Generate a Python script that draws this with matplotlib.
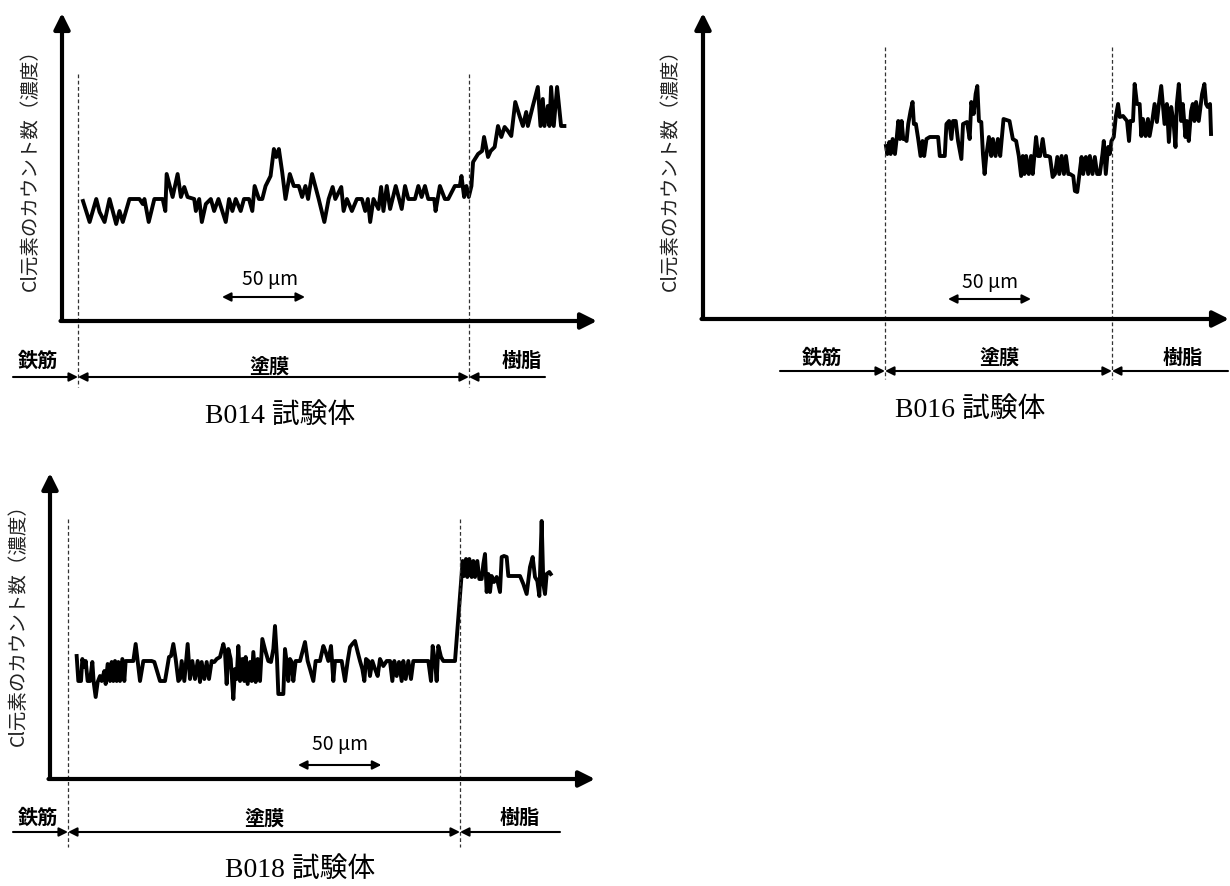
import matplotlib.pyplot as plt

plt.rcParams['font.family'] = ['Noto Sans CJK JP', 'DejaVu Sans']

# distance from the steel/coating boundary (um) and Cl count (arbitrary units)
b014_x = [3, 7, 11, 13, 16, 19, 23, 25, 27, 31,
          37, 39, 40, 42.6, 46, 51, 52.6, 53.4, 57, 60,
          62, 64, 66, 70, 71, 73, 74.6, 77, 80, 82,
          84.6, 89, 91, 93, 95, 98, 100, 103, 105, 106.4,
          109, 111, 113, 116, 118, 119.4, 121, 123, 125, 127.6,
          130, 133, 135, 137, 138.6, 141, 145, 148.4, 151, 153.4,
          155, 158.6, 160, 162, 165, 168, 171, 173, 174.6, 176,
          178, 181, 182.6, 184, 186, 188, 191.4, 195, 197, 199,
          203, 205, 207, 209, 211, 214.6, 215.4, 218, 221, 223,
          227, 230, 231, 232.6, 234, 235.4, 237, 238, 241, 243.4,
          244.6, 247, 248.6, 251, 253, 255, 257, 259, 261, 263.4,
          266, 268, 270, 271, 274, 277, 278.6, 280, 281, 283,
          284, 285, 286.6, 288.6, 291, 293]
b014_y = [120, 99, 122, 109, 99, 122, 97, 110, 99, 122,
          122, 117, 122, 99, 122, 122, 110, 147, 124, 147,
          124, 134, 124, 122, 110, 122, 99, 117, 122, 110,
          122, 99, 122, 110, 122, 110, 122, 122, 110, 135,
          122, 122, 135, 145, 172, 164, 172, 149, 122, 147,
          135, 135, 124, 135, 122, 147, 122, 99, 122, 134,
          122, 134, 110, 122, 110, 122, 122, 110, 122, 99,
          122, 112, 134, 110, 135, 112, 135, 112, 135, 122,
          122, 135, 124, 135, 122, 122, 110, 135, 122, 122,
          135, 135, 145, 124, 135, 124, 135, 159, 167, 170,
          184, 164, 170, 174, 195, 184, 194, 190, 185, 219,
          205, 195, 209, 195, 215, 234, 195, 222, 195, 215,
          195, 234, 195, 234, 195, 195]
b014_coat = 235.5

b016_x = [0.6, 1.4, 2.6, 3.4, 4.6, 6, 7, 8, 9, 10,
          11, 12, 13, 14, 15.4, 16.6, 17.4, 18.6, 20, 21.4,
          22.6, 23.6, 25, 27, 32, 33, 36, 37, 38.6, 40,
          41, 42.6, 44, 46, 47, 49.4, 51, 52, 53.4, 54.6,
          55.6, 56.6, 58, 59, 60, 61, 62.6, 64, 65, 66.6,
          68, 69.4, 71.4, 75, 77, 79, 80.6, 82, 83, 84,
          85, 86.6, 88, 89, 90, 91, 92.2, 93.4, 95, 96.4,
          98, 99.4, 101, 102.4, 103.8, 105, 106.4, 107.8, 109, 110.4,
          111.4, 113.4, 114.4, 115.8, 117, 118.4, 119.4, 121, 122.4, 123.4,
          125, 126.4, 127.8, 129.4, 131, 131.8, 133, 134.4, 135.4, 136.4,
          137.8, 139, 140.4, 141.4, 143.4, 145.8, 147, 147.8, 149.4, 150.4,
          151.8, 153.4, 154.4, 155.4, 157, 158.4, 159.4, 161, 162.4, 163.8,
          165, 166.4, 168.4, 169.8, 171, 172.4, 173.8, 175, 175.8, 177,
          178.4, 179.4, 181, 181.8, 183, 184.4, 185.4, 186.4, 187.4, 189,
          191, 192.4, 193.4, 194.4, 195.8, 196.4]
b016_y = [173, 165, 177, 165, 180, 165, 180, 198, 180, 198,
          180, 180, 178, 195, 208, 217, 195, 195, 180, 163,
          178, 163, 180, 182, 182, 163, 163, 195, 198, 180,
          198, 198, 178, 160, 195, 197, 180, 217, 205, 225,
          233, 198, 197, 165, 145, 163, 182, 163, 180, 163,
          180, 163, 200, 198, 180, 178, 163, 143, 163, 145,
          163, 145, 163, 145, 163, 182, 163, 163, 180, 163,
          163, 162, 142, 145, 162, 145, 163, 145, 163, 145,
          145, 143, 128, 127, 143, 162, 145, 162, 145, 163,
          145, 162, 145, 145, 165, 178, 145, 172, 165, 178,
          182, 202, 215, 202, 203, 198, 178, 198, 198, 235,
          215, 215, 183, 200, 183, 200, 183, 198, 215, 197,
          215, 233, 195, 215, 177, 212, 197, 172, 215, 235,
          198, 215, 182, 198, 178, 208, 215, 198, 217, 198,
          225, 235, 215, 212, 215, 185]
b016_coat = 136.7

b018_x = [5.2, 6.2, 7.8, 8.6, 9.8, 10.6, 11.8, 13.2, 14.6, 15.4,
          16.6, 17.8, 19.2, 20.2, 21.8, 22.6, 23.8, 25.2, 26.2, 27.2,
          28.2, 29.2, 30.2, 31.2, 32.6, 33.8, 34.6, 36.2, 39.2, 40.6,
          41.8, 43.2, 45.2, 50.2, 51.8, 55.2, 58.2, 60.6, 61.8, 63.2,
          64.6, 66.2, 67.2, 68.2, 69.8, 71.8, 73.2, 74.6, 76.2, 77.8,
          79.2, 80.2, 81.8, 83.2, 84.6, 86.2, 87.8, 89.2, 91.2, 93.2,
          94.2, 95.2, 96.2, 97.6, 99.2, 100.2, 101.2, 102.2, 103.2, 104.6,
          105.8, 106.6, 107.8, 109.2, 110.2, 111.2, 112.6, 113.8, 115.2, 116.6,
          118.6, 120.2, 121.8, 123.2, 124.2, 125.4, 126.2, 129.2, 130.2, 131.2,
          132.2, 133.2, 134.2, 135.2, 136.6, 139.2, 140.6, 142.2, 143.8, 145.2,
          147.2, 148.6, 151.2, 153.2, 154.6, 156.2, 157.8, 159.2, 160.2, 164.2,
          166.2, 167.8, 169.2, 170.6, 172.2, 173.8, 175.2, 176.6, 177.8, 178.8,
          180.2, 181.2, 182.6, 184.2, 185.8, 187.2, 189.2, 191.2, 193.2, 194.6,
          195.8, 197.2, 198.6, 200.2, 201.2, 202.6, 204.2, 205.8, 207.2, 209.2,
          216.2, 217.8, 218.8, 220.2, 221.2, 222.2, 223.8, 225.2, 232.2, 236.8,
          237.6, 238.8, 239.6, 240.8, 242.2, 243.2, 244.2, 245.6, 246.8, 248.2,
          249.2, 250.2, 251.2, 252.2, 253.2, 254.2, 255.6, 257.2, 259.2, 260.2,
          261.6, 263.2, 264.2, 271.2, 273.2, 275.2, 277.2, 278.8, 280.2, 281.6,
          282.8, 284.2, 285.2, 286.2, 287.2, 288.8, 289.6]
b018_y = [123, 98, 98, 120, 112, 118, 98, 98, 117, 97,
          82, 97, 103, 98, 108, 95, 115, 98, 117, 98,
          118, 98, 117, 98, 120, 98, 118, 118, 118, 135,
          118, 98, 118, 118, 117, 98, 98, 122, 123, 135,
          120, 98, 100, 118, 98, 135, 100, 118, 100, 118,
          97, 117, 100, 117, 100, 118, 117, 120, 122, 135,
          127, 95, 130, 120, 80, 110, 100, 133, 98, 120,
          98, 122, 95, 117, 98, 127, 97, 120, 98, 140,
          127, 118, 117, 130, 153, 120, 85, 85, 130, 117,
          98, 120, 117, 98, 118, 118, 127, 137, 118, 110,
          98, 118, 118, 133, 127, 118, 133, 98, 118, 118,
          98, 118, 132, 135, 138, 127, 118, 110, 98, 120,
          118, 103, 118, 110, 103, 120, 113, 118, 118, 98,
          118, 103, 117, 98, 118, 100, 118, 100, 118, 118,
          118, 98, 133, 117, 98, 133, 122, 118, 118, 218,
          203, 220, 202, 220, 202, 218, 202, 218, 200, 200,
          215, 225, 187, 205, 187, 203, 197, 202, 187, 222,
          223, 222, 203, 203, 195, 185, 212, 222, 202, 198,
          183, 258, 195, 185, 205, 207, 205]
b018_coat = 235.2

samples = ['B014', 'B016', 'B018']
layers = ['鉄筋', '塗膜', '樹脂']
ylabel = 'Cl元素のカウント数（濃度）'
scale_label = '50 μm'
scale_len = 50

# panel layout in image pixels (y measured from the top)
layouts = [
    dict(ox=62, oy=322, x0=78, s=0.6024, xend=597, ytop=14, dash=(75, 388),
         band=378, steel0=13, resin1=545, lab=[(38, 360), (270, 366), (522, 360)],
         title=(280, 416), sc_text=(270, 280), sc=(222, 298), yl=(30, 165)),
    dict(ox=703, oy=320, x0=885, s=0.6024, xend=1229, ytop=14, dash=(48, 380),
         band=372, steel0=780, resin1=1228, lab=[(822, 357), (1000, 357), (1183, 357)],
         title=(970, 410), sc_text=(990, 283), sc=(948, 300), yl=(670, 165)),
    dict(ox=50, oy=780, x0=68, s=0.6, xend=595, ytop=474, dash=(520, 848),
         band=833, steel0=13, resin1=560, lab=[(38, 817), (265, 818), (520, 817)],
         title=(300, 870), sc_text=(340, 745), sc=(298, 766), yl=(18, 620)),
]

W, H = 1230, 887
fig = plt.figure(figsize=(12.3, 8.87), dpi=100)

series = [(b014_x, b014_y, b014_coat), (b016_x, b016_y, b016_coat), (b018_x, b018_y, b018_coat)]

for name, (xs, ys, coat), L in zip(samples, series, layouts):
    ax = fig.add_axes([L['ox'] / W, 1 - L['oy'] / H,
                       (L['xend'] - L['ox']) / W, (L['oy'] - L['ytop']) / H])
    X = lambda px, L=L: (px - L['x0']) * L['s']
    Y = lambda py, L=L: L['oy'] - py
    ax.set_xlim(X(L['ox']), X(L['xend']))
    ax.set_ylim(0, Y(L['ytop']))
    ax.axis('off')

    ax.plot(xs, ys, color='black', lw=2.8)

    # axes with arrow heads
    big = dict(arrowstyle='-|>', lw=3, color='black', mutation_scale=24, shrinkA=0, shrinkB=0)
    ax.annotate('', xy=(X(L['xend']), 0), xytext=(X(L['ox'] - 1.5), 0),
                arrowprops=big, annotation_clip=False)
    ax.annotate('', xy=(X(L['ox']), Y(L['ytop'])), xytext=(X(L['ox']), 0),
                arrowprops=big, annotation_clip=False)

    # layer boundaries
    for bx in [0, coat]:
        ax.plot([bx, bx], [Y(L['dash'][0]), Y(L['dash'][1])], color='#333333',
                lw=0.9, ls=(0, (3, 2)), clip_on=False)

    # layer band
    small = dict(lw=1.5, color='black', mutation_scale=13, shrinkA=0, shrinkB=0)
    by = Y(L['band'])
    ax.annotate('', xy=(0, by), xytext=(X(L['steel0']), by),
                arrowprops=dict(arrowstyle='-|>', **small), annotation_clip=False)
    ax.annotate('', xy=(coat, by), xytext=(0, by),
                arrowprops=dict(arrowstyle='<|-|>', **small), annotation_clip=False)
    ax.annotate('', xy=(coat, by), xytext=(X(L['resin1']), by),
                arrowprops=dict(arrowstyle='-|>', **small), annotation_clip=False)
    for txt, (lx, ly) in zip(layers, L['lab']):
        ax.text(X(lx), Y(ly), txt, ha='center', va='center', fontsize=14.5,
                fontweight='bold', clip_on=False)

    # 50 um scale bar
    sx, sy = L['sc']
    ax.annotate('', xy=(X(sx) + scale_len, Y(sy)), xytext=(X(sx), Y(sy)),
                arrowprops=dict(arrowstyle='<|-|>', **small), annotation_clip=False)
    ax.text(X(L['sc_text'][0]), Y(L['sc_text'][1]), scale_label, ha='center',
            va='center', fontsize=14, clip_on=False)

    ax.text(X(L['yl'][0]), Y(L['yl'][1]), ylabel, rotation=90, ha='center',
            va='center', fontsize=14, color='#222222', clip_on=False)
    ax.text(X(L['title'][0]), Y(L['title'][1]), name + ' 試験体', ha='center',
            va='center', fontsize=20, family=['Liberation Serif', 'Noto Sans CJK JP'],
            clip_on=False)

fig.savefig('out.png', dpi=100)
